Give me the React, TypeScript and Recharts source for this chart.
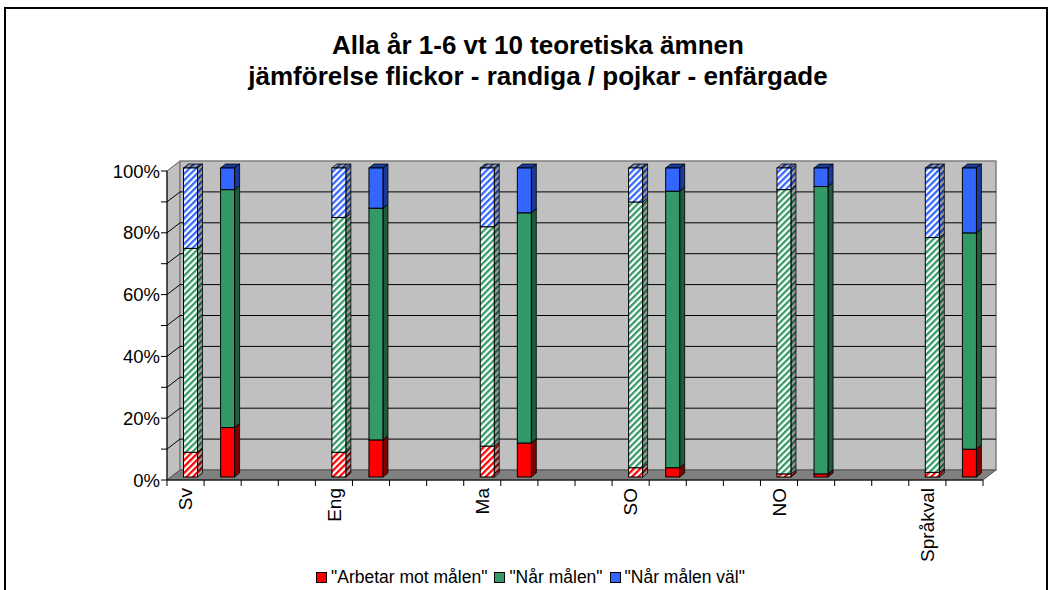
import { BarChart, Bar, XAxis, YAxis, ReferenceArea } from "recharts";

// subjects, each has a girls bar (striped) and a boys bar (solid)
const subjects = ["Sv", "Eng", "Ma", "SO", "NO", "Språkval"];

// girls, share of pupils (%)
const girlsArbetar = [8, 8, 10, 3, 1, 1.5];
const girlsNar = [66, 76, 71, 86, 92, 76];
const girlsNarVal = [26, 16, 19, 11, 7, 22.5];

// boys
const boysArbetar = [16, 12, 11, 3, 1, 9];
const boysNar = [77, 75, 74.5, 89.5, 93, 70];
const boysNarVal = [7, 13, 14.5, 7.5, 6, 21];

const yTicks = [0, 0.1, 0.2, 0.3, 0.4, 0.5, 0.6, 0.7, 0.8, 0.9, 1];

const series = [
  { key: "arbetar", name: '"Arbetar mot målen"', color: "#FF0000", dark: "#800000" },
  { key: "nar", name: '"Når målen"', color: "#339966", dark: "#1d5c3c" },
  { key: "narVal", name: '"Når målen väl"', color: "#3366FF", dark: "#1a3a99" },
];

const rows: any[] = [];
subjects.forEach((s, i) => {
  rows.push({ key: `${s}-f`, label: s, girl: true, arbetar: girlsArbetar[i], nar: girlsNar[i], narVal: girlsNarVal[i] });
  rows.push({ key: `${s}-p`, label: "", girl: false, arbetar: boysArbetar[i], nar: boysNar[i], narVal: boysNarVal[i] });
  if (i < subjects.length - 1) {
    rows.push({ key: `${s}-g1`, label: "" });
    rows.push({ key: `${s}-g2`, label: "" });
  }
});

const FONT = '"Liberation Sans", Arial, sans-serif';
const DX = 13;
const DY = -10;

const Walls = (p: any) => {
  const { x, y, width, height } = p;
  const l = x, t = y, r = x + width, b = y + height;
  return (
    <g>
      <polygon points={`${l},${t} ${l + DX},${t + DY} ${l + DX},${b + DY} ${l},${b}`} fill="#c0c0c0" stroke="#555" strokeWidth={1} />
      <rect x={l + DX} y={t + DY} width={width} height={height} fill="#c0c0c0" stroke="#808080" strokeWidth={1.5} />
      <polygon points={`${l},${b} ${l + DX},${b + DY} ${r + DX},${b + DY} ${r},${b}`} fill="#808080" stroke="#555" strokeWidth={1} />
    </g>
  );
};

// area from 0 up to a tick value: only its top edge is drawn, as a gridline on the
// back wall plus its diagonal on the side wall
const WallLine = (p: any) => {
  const { x, y, width } = p;
  return (
    <g>
      <line x1={x} y1={y} x2={x + DX} y2={y + DY} stroke="#000" strokeWidth={1} />
      <line x1={x + DX} y1={y + DY} x2={x + width + DX} y2={y + DY} stroke="#000" strokeWidth={1} />
    </g>
  );
};

const makeBox = (s: (typeof series)[number]) => (p: any) => {
  const { x, y, width, height, payload } = p;
  if (!height || !(height > 0) || !payload) return <g />;
  const X = x + 4.5;
  const Y = y - 3;
  const bx = 5, by = -4;
  const front = payload.girl ? `url(#st-${s.key})` : s.color;
  const side = payload.girl ? `url(#sd-${s.key})` : s.dark;
  return (
    <g>
      <polygon points={`${X},${Y} ${X + bx},${Y + by} ${X + width + bx},${Y + by} ${X + width},${Y}`} fill={side} stroke="#000" strokeWidth={0.8} />
      <polygon points={`${X + width},${Y} ${X + width + bx},${Y + by} ${X + width + bx},${Y + height + by} ${X + width},${Y + height}`} fill={side} stroke="#000" strokeWidth={0.8} />
      <rect x={X} y={Y} width={width} height={height} fill={front} stroke="#000" strokeWidth={1} />
    </g>
  );
};

const XTick = (p: any) => {
  const { x, y, payload, index } = p;
  const half = payload.offset ?? 18.5;
  const row = rows[index];
  return (
    <g>
      <line x1={x - half} y1={y} x2={x - half} y2={y + 6} stroke="#000" />
      {index === rows.length - 1 && <line x1={x + half} y1={y} x2={x + half} y2={y + 6} stroke="#000" />}
      {row && row.label && (
        <text x={x} y={y + 8} transform={`rotate(-90, ${x}, ${y + 8})`} textAnchor="end" dy="0.35em" fontSize={19} fontFamily={FONT} fill="#000">
          {row.label}
        </text>
      )}
    </g>
  );
};

export default function App() {
  return (
    <div style={{ position: "absolute", left: 0, top: 0, width: 1061, height: 590, overflow: "hidden", background: "#fff" }}>
      <div style={{ position: "absolute", left: 4, top: 7, width: 1044, height: 640, border: "2px solid #000", boxSizing: "border-box" }} />
      <div style={{ position: "absolute", left: 0, top: 30, width: 1076, textAlign: "center", fontFamily: FONT, fontWeight: "bold", fontSize: 26, lineHeight: "31px", color: "#000" }}>
        <div>Alla år 1-6 vt 10 teoretiska ämnen</div>
        <div>jämförelse flickor - randiga / pojkar - enfärgade</div>
      </div>
      <div style={{ position: "absolute", left: 0, top: 0 }}>
        <BarChart width={1061} height={590} data={rows} stackOffset="expand" barSize={14} margin={{ top: 171, right: 78, bottom: 10, left: 0 }}>
          <defs>
            {series.map((s) => (
              <pattern key={`st-${s.key}`} id={`st-${s.key}`} width="4.5" height="4.5" patternUnits="userSpaceOnUse" patternTransform="rotate(45)">
                <rect width="4.5" height="4.5" fill="#fff" />
                <rect width="2.25" height="4.5" fill={s.color} />
              </pattern>
            ))}
            {series.map((s) => (
              <pattern key={`sd-${s.key}`} id={`sd-${s.key}`} width="4.5" height="4.5" patternUnits="userSpaceOnUse" patternTransform="rotate(45)">
                <rect width="4.5" height="4.5" fill="#a0a0a0" />
                <rect width="2.25" height="4.5" fill={s.dark} />
              </pattern>
            ))}
          </defs>
          <ReferenceArea y1={0} y2={1} shape={Walls} ifOverflow="visible" />
          {yTicks.slice(1, -1).map((v) => (
            <ReferenceArea key={v} y1={0} y2={v} shape={WallLine} ifOverflow="visible" />
          ))}
          <XAxis dataKey="key" interval={0} tick={XTick} tickLine={false} tickSize={0} tickMargin={0} axisLine={{ stroke: "#000" }} height={100} />
          <YAxis
            domain={[0, 1]}
            ticks={yTicks}
            interval={0}
            width={167}
            tickFormatter={(v: number) => (Math.round(v * 10) % 2 === 0 ? `${Math.round(v * 100)}%` : "")}
            tick={{ fontSize: 18.5, fill: "#000", fontFamily: FONT }}
            axisLine={{ stroke: "#000" }}
            tickLine={{ stroke: "#000" }}
            tickSize={6}
            tickMargin={1}
          />
          {series.map((s) => (
            <Bar key={s.key} dataKey={s.key} name={s.name} stackId="s" fill={s.color} isAnimationActive={false} shape={makeBox(s)} />
          ))}
        </BarChart>
      </div>
      <div style={{ position: "absolute", left: 0, top: 567, width: 1068, display: "flex", justifyContent: "center", alignItems: "center", fontFamily: FONT, fontSize: 17.5, color: "#000" }}>
        {series.map((s) => (
          <span key={s.key} style={{ display: "inline-flex", alignItems: "center", marginRight: 7 }}>
            <span style={{ display: "inline-block", width: 9, height: 9, background: s.color, border: "1px solid #000", marginRight: 4 }} />
            {s.name}
          </span>
        ))}
      </div>
    </div>
  );
}
